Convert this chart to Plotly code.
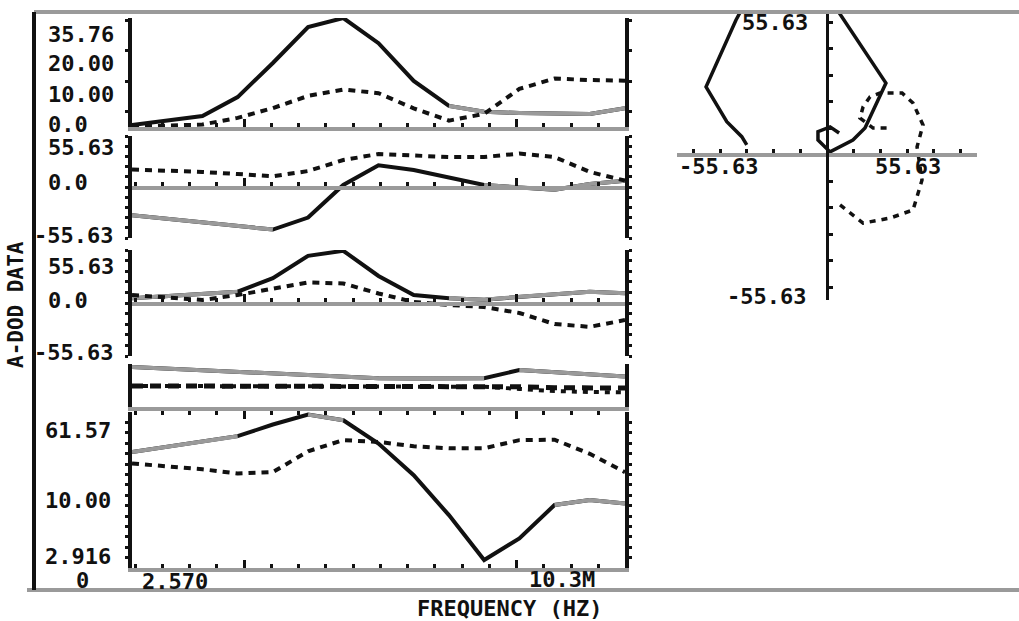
import numpy as np
import plotly.graph_objects as go

W, H = 1019, 621

# ---- data -------------------------------------------------------------
freq = [2.57, 3.21, 3.85, 4.49, 5.13, 5.77, 6.41, 7.05, 7.69, 8.33, 8.97, 9.61, 10.25, 10.89, 11.53]

mag_a = [0.66, 2.1, 3.6, 9.8, 21.0, 32.8, 35.76, 27.5, 15.1, 6.9, 5.0, 4.6, 4.4, 4.3, 6.2]
mag_b = [0.1, 0.3, 0.8, 3.0, 6.2, 10.2, 12.3, 11.1, 6.1, 2.1, 4.3, 12.5, 15.9, 15.4, 15.2]

real_a = [-30.9, -34.9, -38.9, -43.0, -46.4, -33.3, 2.2, 23.7, 18.5, 10.4, 2.2, -0.5, -2.9, 3.3, 6.9]
real_b = [19.1, 18.0, 16.4, 14.2, 11.7, 17.4, 29.4, 36.0, 34.4, 32.7, 32.7, 36.5, 32.7, 16.4, 6.9]

imag_a = [4.9, 7.4, 9.5, 11.9, 26.0, 49.5, 54.8, 28.4, 8.4, 4.9, 3.5, 6.6, 9.5, 11.9, 10.2]
imag_b = [8.4, 6.3, 3.2, 8.4, 15.5, 21.6, 20.5, 10.0, 1.1, -2.1, -4.2, -10.5, -22.1, -25.0, -17.9]

coh_a = [0.93, 0.89, 0.86, 0.82, 0.78, 0.74, 0.71, 0.67, 0.66, 0.66, 0.67, 0.86, 0.81, 0.76, 0.71]
coh_b = [0.49, 0.49, 0.48, 0.48, 0.48, 0.48, 0.47, 0.47, 0.48, 0.48, 0.48, 0.47, 0.45, 0.44, 0.44]
coh_c = [0.49, 0.49, 0.48, 0.48, 0.48, 0.48, 0.47, 0.47, 0.48, 0.48, 0.47, 0.42, 0.37, 0.35, 0.34]

ratio_a = [28.2, 31.2, 34.5, 38.4, 48.2, 58.5, 52.4, 33.2, 17.9, 8.2, 3.41, 5.2, 10.0, 11.0, 10.3]
ratio_b = [22.5, 21.3, 20.1, 18.5, 19.0, 28.6, 35.5, 34.3, 31.5, 30.3, 30.3, 35.5, 35.8, 27.2, 19.0]

nyq_re_a = [-41.8, -44.4, -52.2, -63.0, -47.4, -37.0, -4.0, 30.7, 19.8, 13.5, 1.6, -4.7, -4.7, 1.6, 6.3]
nyq_im_a = [4.0, 7.5, 13.8, 28.4, 56.5, 72.0, 72.0, 30.0, 11.1, 6.1, 1.1, 6.1, 9.6, 11.6, 9.0]
nyq_re_b = [6.8, 18.8, 32.8, 44.8, 49.5, 46.9, 50.0, 44.8, 39.1, 27.6, 22.4, 18.8, 17.2, 24.0, 31.3]
nyq_im_b = [-21.2, -28.8, -26.7, -23.3, -10.7, 3.2, 12.4, 21.6, 25.8, 25.8, 24.2, 20.0, 15.3, 11.1, 11.1]

lim = 55.63
mag_top = 35.76
ratio_lo, ratio_hi = 2.916, 61.57

# pen changes (index spans where the plotter drew in grey ink)
grey_mag = [(9, 14)]
grey_real = [(0, 4), (10, 14)]
grey_imag = [(0, 3), (9, 14)]
grey_ratio = [(0, 3), (5, 6), (12, 14)]

# ---- helpers ------------------------------------------------------------
def fx(px):
    return px / W


def fy(py):
    return 1 - py / H


GRAY = "#9a9a9a"
BLACK = "#111111"
FONT = "DejaVu Sans Mono"

x_lo, x_hi = freq[0], freq[-1]
x_px0, x_px1 = 132, 625
px_per_unit = (x_px1 - x_px0) / (x_hi - x_lo)


def f_at(px):
    return x_lo + (px - x_px0) / px_per_unit


tick_px = [135 + 27.25 * k for k in range(18)]
tall = [tick_px[4], tick_px[14]]
major_vals = [f_at(p) for p in tall]
minor_vals = [f_at(p) for i, p in enumerate(tick_px) if i not in (4, 14)]


def freq_axis(**kw):
    d = dict(
        range=[x_lo, x_hi], domain=[fx(x_px0), fx(x_px1)],
        showline=True, linecolor=GRAY, linewidth=4,
        ticks="inside", tickcolor=BLACK, tickwidth=3, ticklen=8,
        tickmode="array", tickvals=major_vals,
        minor=dict(tickmode="array", tickvals=minor_vals, ticks="inside",
                   ticklen=4, tickwidth=3, tickcolor=BLACK),
        showticklabels=False, showgrid=False, zeroline=False,
    )
    d.update(kw)
    return d


def val_axis(top, bottom, rng, tickvals, **kw):
    d = dict(
        range=rng, domain=[fy(bottom), fy(top)],
        showline=True, linecolor=BLACK, linewidth=4, mirror="ticks",
        ticks="outside", tickcolor=BLACK, tickwidth=3, ticklen=3,
        tickmode="array", tickvals=tickvals,
        showticklabels=False, showgrid=False, zeroline=False,
    )
    d.update(kw)
    return d


SOLID = dict(color=BLACK, width=4)
DASH = dict(color=BLACK, width=4, dash="7px,6px")
GREY_PEN = dict(color=GRAY, width=4)

fig = go.Figure()


def curve(xs, ys, line, xa, ya, grey=()):
    fig.add_trace(go.Scatter(x=xs, y=ys, mode="lines", line=line, xaxis=xa, yaxis=ya))
    for i0, i1 in grey:
        fig.add_trace(go.Scatter(x=xs[i0:i1 + 1], y=ys[i0:i1 + 1], mode="lines",
                                 line=GREY_PEN, xaxis=xa, yaxis=ya))


# panel 1: magnitude
curve(freq, mag_a, SOLID, "x", "y", grey_mag)
curve(freq, mag_b, DASH, "x", "y")
# panel 2: real part
curve(freq, real_a, SOLID, "x2", "y2", grey_real)
curve(freq, real_b, DASH, "x2", "y2")
# panel 3: imaginary part
curve(freq, imag_a, SOLID, "x3", "y3", grey_imag)
curve(freq, imag_b, DASH, "x3", "y3")
# panel 4: coherence strip
curve(freq, coh_a, SOLID, "x4", "y4", [(0, 10), (11, 14)])
curve(freq, coh_b, dict(color=BLACK, width=5, dash="11px,7px"), "x4", "y4")
curve(freq, coh_c, dict(color=BLACK, width=4, dash="5px,6px"), "x4", "y4")
# panel 5: ratio (log)
curve(freq, ratio_a, SOLID, "x5", "y5", grey_ratio)
curve(freq, ratio_b, DASH, "x5", "y5")
# polar plot
curve(nyq_re_a, nyq_im_a, dict(color=BLACK, width=3.5), "x6", "y6")
curve(nyq_re_b, nyq_im_b, dict(color=BLACK, width=3.5, dash="6px,6px"), "x6", "y6")

step2 = lim / 5
ticks_pm = [step2 * k for k in range(-5, 6)]
log_ticks = list(10 ** np.linspace(np.log10(ratio_lo), np.log10(ratio_hi), 16)[1:-1])

# polar axes scale
nx_step = lim / 4
ny_step = lim / 5
nx_half = 150 / (26.7 / nx_step)
ny_top = (154.5 - 10) / (26.5 / ny_step)
ny_bot = (300 - 154.5) / (26.5 / ny_step)

layout = dict(
    width=W, height=H, margin=dict(l=0, r=0, t=0, b=0),
    paper_bgcolor="white", plot_bgcolor="white", showlegend=False,
    xaxis=freq_axis(anchor="y"),
    yaxis=val_axis(18, 127, [0, mag_top], [5, 15, 25, 35], anchor="x"),
    xaxis2=freq_axis(anchor="free", position=fy(188)),
    yaxis2=val_axis(136, 238, [-lim, lim], ticks_pm, anchor="x2"),
    xaxis3=freq_axis(anchor="free", position=fy(304)),
    yaxis3=val_axis(250, 356, [-lim, lim], ticks_pm, anchor="x3"),
    xaxis4=freq_axis(anchor="y4", ticks="outside",
                     minor=dict(tickmode="array", tickvals=minor_vals, ticks="outside",
                                ticklen=4, tickwidth=3, tickcolor=BLACK)),
    yaxis4=val_axis(364, 407, [0, 1], [], anchor="x4", ticks=""),
    xaxis5=freq_axis(anchor="y5"),
    yaxis5=val_axis(412, 568, [np.log10(ratio_lo), np.log10(ratio_hi)], log_ticks,
                    type="log", anchor="x5"),
    xaxis6=dict(range=[-nx_half, nx_half], domain=[fx(677), fx(977)],
                anchor="free", position=fy(154.5),
                showline=True, linecolor=GRAY, linewidth=4,
                ticks="inside", tickcolor=BLACK, tickwidth=3, ticklen=4,
                tickmode="array", tickvals=[nx_step * k for k in range(-5, 6) if k != 0],
                showticklabels=False, showgrid=False, zeroline=False),
    yaxis6=dict(range=[-ny_bot, ny_top], domain=[fy(300), fy(10)],
                anchor="free", position=fx(827),
                showline=True, linecolor=BLACK, linewidth=3,
                ticks="inside", tickcolor=BLACK, tickwidth=3, ticklen=4,
                tickmode="array", tickvals=[ny_step * k for k in range(-5, 6) if k != 0],
                showticklabels=False, showgrid=False, zeroline=False),
)
fig.update_layout(**layout)

# outer frame
fig.add_shape(type="line", xref="paper", yref="paper", x0=fx(34), x1=1, y0=fy(12), y1=fy(12),
              line=dict(color=GRAY, width=4))
fig.add_shape(type="line", xref="paper", yref="paper", x0=fx(27), x1=1, y0=fy(590), y1=fy(590),
              line=dict(color=GRAY, width=4))
fig.add_shape(type="line", xref="paper", yref="paper", x0=fx(34), x1=fx(34), y0=fy(12), y1=fy(590),
              line=dict(color=BLACK, width=4))


def label(text, px, py, anchor="left", size=22, **kw):
    fig.add_annotation(text="<b>%s</b>" % text, xref="paper", yref="paper",
                       x=fx(px), y=fy(py), xanchor=anchor, yanchor="middle",
                       showarrow=False, font=dict(family=FONT, size=size, color=BLACK), **kw)


left_labels = [
    ("35.76", 46, 34), ("20.00", 46, 63), ("10.00", 46, 94), ("0.0", 46, 124),
    ("55.63", 46, 148), ("0.0", 46, 183), ("-55.63", 32, 235),
    ("55.63", 46, 266), ("0.0", 46, 301), ("-55.63", 32, 352),
    ("61.57", 43, 430), ("10.00", 43, 500), ("2.916", 43, 556),
]
for t, px, py in left_labels:
    label(t, px, py)
label("0", 82, 580, anchor="center")
label("2.570", 140, 581)
label("10.3M", 527, 579)
label("FREQUENCY (HZ)", 509, 608, anchor="center")
fig.add_annotation(text="<b>A-DOD DATA</b>", xref="paper", yref="paper",
                   x=fx(2), y=fy(305), xanchor="left", yanchor="middle",
                   showarrow=False, textangle=-90,
                   font=dict(family=FONT, size=21, color=BLACK))

# polar labels
label("55.63", 740, 22)
label("-55.63", 677, 166)
label("55.63", 873, 166)
label("-55.63", 725, 296)

fig.write_html("out.html", config=dict(displayModeBar=False))
